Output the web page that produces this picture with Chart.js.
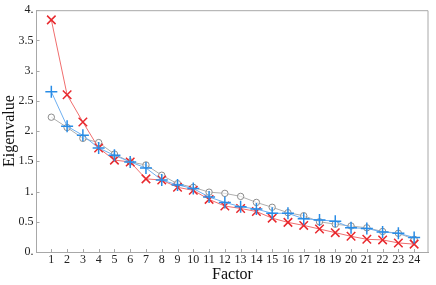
<!DOCTYPE html>
<html>
<head>
<meta charset="utf-8">
<script src="https://cdn.jsdelivr.net/npm/chart.js@4.4.0/dist/chart.umd.min.js"></script>
<style>
  html, body { margin: 0; padding: 0; background: #fff; }
  #wrap { width: 436px; height: 285px; }
</style>
</head>
<body>
<div id="wrap"><canvas id="scree"></canvas></div>
<script>
// ---- data ----
const factors = [1, 2, 3, 4, 5, 6, 7, 8, 9, 10, 11, 12, 13, 14, 15, 16, 17, 18, 19, 20, 21, 22, 23, 24];
const redValues = [3.84, 2.60, 2.15, 1.72, 1.52, 1.49, 1.21, 1.19, 1.07, 1.02, 0.87, 0.76,
                   0.72, 0.67, 0.56, 0.49, 0.44, 0.38, 0.32, 0.26, 0.21, 0.20, 0.15, 0.13];
const blueValues = [2.65, 2.08, 1.93, 1.72, 1.60, 1.49, 1.39, 1.19, 1.11, 1.05, 0.91, 0.82,
                    0.75, 0.71, 0.64, 0.64, 0.55, 0.53, 0.51, 0.40, 0.39, 0.33, 0.31, 0.24];
const grayValues = [2.23, 2.06, 1.88, 1.81, 1.62, 1.49, 1.44, 1.27, 1.13, 1.07, 0.99, 0.97,
                    0.92, 0.82, 0.74, 0.65, 0.60, 0.50, 0.46, 0.43, 0.40, 0.34, 0.31, 0.21];
const yTicks = [0, 0.5, 1, 1.5, 2, 2.5, 3, 3.5, 4];

const toPoints = vals => vals.map((v, i) => ({ x: factors[i], y: v }));
const serif = "'Liberation Serif', 'DejaVu Serif', serif";
const frameColor = '#a8a8a8';

// top/right frame edges plus small inward ticks, like the original
const framePlugin = {
    id: 'frame',
    beforeDatasetsDraw(chart) {
        const { ctx, chartArea: a, scales } = chart;
        ctx.save();
        ctx.strokeStyle = frameColor;
        ctx.lineWidth = 1;
        ctx.beginPath();
        ctx.moveTo(a.left, a.top + 0.5);
        ctx.lineTo(a.right - 0.5, a.top + 0.5);
        ctx.lineTo(a.right - 0.5, a.bottom);
        factors.forEach(f => {
            const px = Math.round(scales.x.getPixelForValue(f)) + 0.5;
            ctx.moveTo(px, a.bottom);
            ctx.lineTo(px, a.bottom - 3);
        });
        yTicks.forEach(t => {
            const py = Math.round(scales.y.getPixelForValue(t)) + 0.5;
            ctx.moveTo(a.left, py);
            ctx.lineTo(a.left + 3, py);
        });
        ctx.stroke();
        ctx.restore();
    }
};

new Chart(document.getElementById('scree'), {
    type: 'line',
    data: {
        datasets: [
            {
                data: toPoints(blueValues),
                borderColor: 'rgb(110,175,240)',
                borderWidth: 1,
                pointStyle: 'cross',
                pointRadius: 6,
                pointBorderWidth: 1.5,
                pointBorderColor: 'rgb(40,140,230)',
                pointBackgroundColor: 'rgb(40,140,230)',
                order: 0
            },
            {
                data: toPoints(redValues),
                borderColor: 'rgb(240,110,110)',
                borderWidth: 1,
                pointStyle: 'crossRot',
                pointRadius: 6,
                pointBorderWidth: 1.5,
                pointBorderColor: 'rgb(232,40,45)',
                pointBackgroundColor: 'rgb(232,40,45)',
                order: 1
            },
            {
                data: toPoints(grayValues),
                borderColor: 'rgb(175,175,175)',
                borderWidth: 1,
                pointStyle: 'circle',
                pointRadius: 3.2,
                pointBorderWidth: 1,
                pointBorderColor: 'rgb(140,140,140)',
                pointBackgroundColor: 'rgba(255,255,255,0.6)',
                order: 2
            }
        ]
    },
    options: {
        responsive: true,
        maintainAspectRatio: false,
        animation: false,
        layout: { padding: { top: 4, right: 1, left: 0, bottom: 0 } },
        plugins: { legend: { display: false }, tooltip: { enabled: false } },
        scales: {
            x: {
                type: 'linear',
                min: 0.06,
                max: 24.91,
                afterBuildTicks: axis => { axis.ticks = factors.map(v => ({ value: v })); },
                afterFit: axis => { axis.height = 33; },
                border: { color: frameColor, width: 1 },
                grid: { display: false, drawTicks: false },
                ticks: {
                    autoSkip: false,
                    maxRotation: 0,
                    padding: 1,
                    color: '#222',
                    font: { family: serif, size: 12 }
                },
                title: {
                    display: true,
                    text: 'Factor',
                    color: '#111',
                    padding: { top: 0, bottom: 1 },
                    font: { family: serif, size: 16 }
                }
            },
            y: {
                min: 0,
                max: 4,
                afterBuildTicks: axis => { axis.ticks = yTicks.map(v => ({ value: v })); },
                afterFit: axis => { axis.width = 36.5; },
                border: { color: frameColor, width: 1 },
                grid: { display: false, drawTicks: false },
                ticks: {
                    padding: 3,
                    color: '#222',
                    font: { family: serif, size: 12 },
                    callback: v => (Number.isInteger(v) ? v + '.' : String(v))
                },
                title: {
                    display: true,
                    text: 'Eigenvalue',
                    color: '#111',
                    padding: { top: 0, bottom: 0 },
                    font: { family: serif, size: 16 }
                }
            }
        }
    },
    plugins: [framePlugin]
});
</script>
</body>
</html>
